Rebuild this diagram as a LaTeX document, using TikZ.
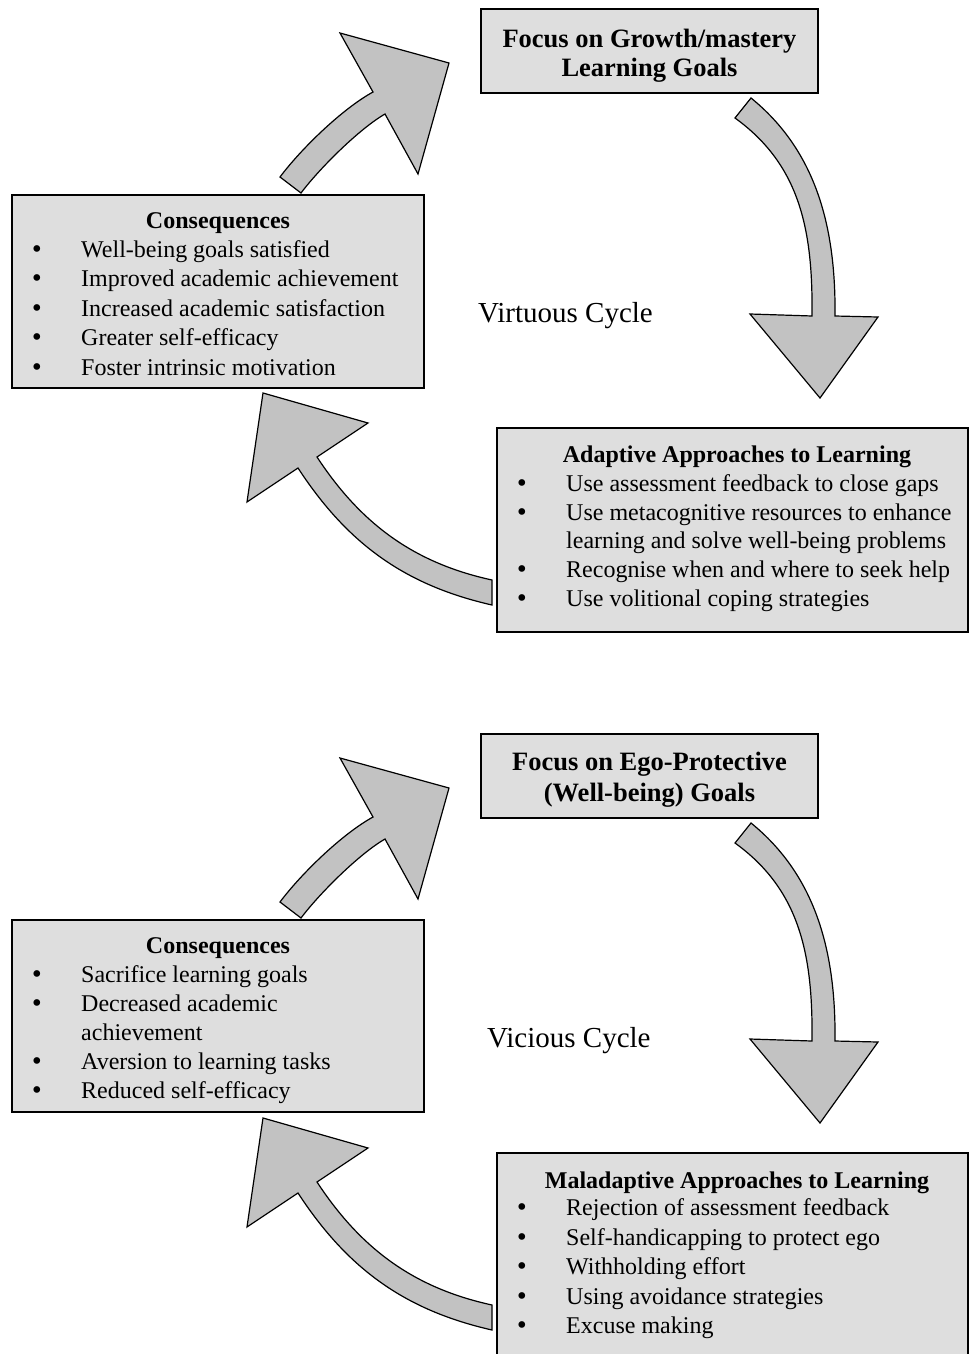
\documentclass[tikz,border=0pt]{standalone}
\usepackage{fontspec}
\setmainfont{Liberation Serif}
\newfontfamily\bulfont{DejaVu Sans}
\definecolor{boxgray}{gray}{0.87}
\definecolor{arrowgray}{gray}{0.76}
\newcommand\cyclearrows{%
  % arrow up-right (consequences -> focus)
  \path[blk] (280,177) .. controls (301,149) and (342,109) .. (373,92)
     -- (340,33) -- (449,63) -- (418,174) -- (385,114)
     .. controls (359,129) and (319,169) .. (301,193) -- cycle;
  % arrow down (focus -> approaches)
  \path[blk] (751,98) .. controls (815,150) and (836,225) .. (835,316)
     -- (878,317) -- (820,398) -- (750,314) -- (812,316)
     .. controls (813,230) and (800,165) .. (735,118) -- cycle;
  % arrow up-left (approaches -> consequences)
  \path[blk] (492,605) .. controls (404,585) and (347,543) .. (298,468)
     -- (247,502) -- (263,393) -- (368,423) -- (317,457)
     .. controls (361,524) and (414,563) .. (492,580) -- cycle;
}
\begin{document}
\begin{tikzpicture}[x=1pt,y=-1pt,
  box/.style={draw=black,line width=1.6pt,fill=boxgray,anchor=north west,inner sep=0pt,outer sep=0pt},
  blk/.style={draw=black,line width=1.2pt,fill=arrowgray,line join=miter},
  body/.style={anchor=base west,inner sep=0pt,font=\fontsize{24}{29}\selectfont},
  bul/.style={anchor=base,inner sep=0pt,font=\fontsize{23}{26}\bulfont},
  head/.style={anchor=base,inner sep=0pt,font=\fontsize{24}{29}\selectfont\bfseries},
  focus/.style={anchor=base,inner sep=0pt,font=\fontsize{26.5}{30}\selectfont\bfseries},
  cyc/.style={anchor=base west,inner sep=0pt,font=\fontsize{29}{34}\selectfont}
]
\useasboundingbox (0,0) rectangle (970,1354);
\fill[white] (0,0) rectangle (970,1354);

% ===== Virtuous cycle =====
\cyclearrows
\node[box,minimum width=337pt,minimum height=84pt] (f1) at (481,9) {};
\node[focus] (f1a) at (649.5,48) {Focus on Growth/mastery};
\node[focus] (f1b) at (649.5,77) {Learning Goals};

\node[box,minimum width=412pt,minimum height=193pt] (c1) at (12,195) {};
\node[head] (c1t) at (218,228) {Consequences};
\foreach \y/\t [count=\i] in {257.4/Well-being goals satisfied,
  286.8/Improved academic achievement,
  316.2/Increased academic satisfaction,
  345.6/Greater self-efficacy,
  375/Foster intrinsic motivation}{
  \node[bul] (c1b\i) at (37,\y) {•};
  \node[body] (c1l\i) at (81,\y) {\t};
}

\node[box,minimum width=471pt,minimum height=204pt] (a1) at (497,428) {};
\node[head] (a1t) at (737,462.5) {Adaptive Approaches to Learning};
\node[bul] (a1b1) at (522,491.3) {•};
\node[body] (a1l1) at (566,491.3) {Use assessment feedback to close gaps};
\node[bul] (a1b2) at (522,520.1) {•};
\node[body] (a1l2) at (566,520.1) {Use metacognitive resources to enhance};
\node[body] (a1l2b) at (566,548.9) {learning and solve well-being problems};
\node[bul] (a1b3) at (522,577.7) {•};
\node[body] (a1l3) at (566,577.7) {Recognise when and where to seek help};
\node[bul] (a1b4) at (522,606.5) {•};
\node[body] (a1l4) at (566,606.5) {Use volitional coping strategies};

\node[cyc] (vc) at (478,322) {Virtuous Cycle};

% ===== Vicious cycle =====
\begin{scope}[yshift=-725pt]
\cyclearrows
\end{scope}
\node[box,minimum width=337pt,minimum height=84pt] (f2) at (481,734) {};
\node[focus] (f2a) at (649.5,770) {Focus on Ego-Protective};
\node[focus] (f2b) at (649.5,801) {(Well-being) Goals};

\node[box,minimum width=412pt,minimum height=192pt] (c2) at (12,920) {};
\node[head] (c2t) at (218,953) {Consequences};
\node[bul] (c2b1) at (37,982) {•};
\node[body] (c2l1) at (81,982) {Sacrifice learning goals};
\node[bul] (c2b2) at (37,1011) {•};
\node[body] (c2l2) at (81,1011) {Decreased academic};
\node[body] (c2l2b) at (81,1040) {achievement};
\node[bul] (c2b3) at (37,1069) {•};
\node[body] (c2l3) at (81,1069) {Aversion to learning tasks};
\node[bul] (c2b4) at (37,1098) {•};
\node[body] (c2l4) at (81,1098) {Reduced self-efficacy};

\node[box,minimum width=471pt,minimum height=210pt] (m2) at (497,1153) {};
\node[head] (m2t) at (737,1188) {Maladaptive Approaches to Learning};
\foreach \y/\t [count=\i] in {1215.5/Rejection of assessment feedback,
  1245/Self-handicapping to protect ego,
  1274.5/Withholding effort,
  1304/Using avoidance strategies,
  1333.5/Excuse making}{
  \node[bul] (m2b\i) at (522,\y) {•};
  \node[body] (m2l\i) at (566,\y) {\t};
}

\node[cyc] (vic) at (487,1047) {Vicious Cycle};
\end{tikzpicture}
\end{document}
